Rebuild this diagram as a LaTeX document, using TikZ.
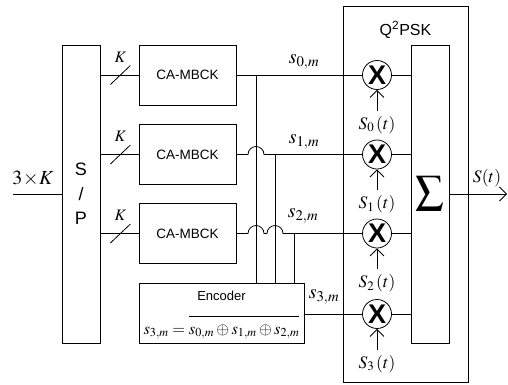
\documentclass[tikz,border=0pt]{standalone}
\usepackage{mathptmx}
\usepackage[no-math]{fontspec}
\setmainfont{Liberation Sans}
\usetikzlibrary{arrows.meta,calc}

\begin{document}
\begin{tikzpicture}[x=1pt,y=-1pt,line width=0.8pt,
    >={Straight Barb[length=7pt,width=14pt]},
    blk/.style={draw,minimum width=97pt,minimum height=60pt,
      font=\fontsize{13.5}{16}\selectfont},
    mult/.style={draw,circle,minimum size=29pt,inner sep=0pt,
      font=\fontsize{27}{27}\selectfont\bfseries},
    lbl/.style={font=\fontsize{17.5}{20}\selectfont},
    sig/.style={font=\fontsize{20}{22}\selectfont}]
  \useasboundingbox (0,0) rectangle (508,384);

  % serial to parallel
  \node[draw,minimum width=38pt,minimum height=298pt,align=center,
    font=\fontsize{18}{24.5}\selectfont] (sp) at (81,194) {S\\/\\P};
  \coordinate (in) at (13,194);
  \draw (in) -- (sp.west);
  \node[font=\fontsize{20}{22}\selectfont] at (33,179) {$3\!\times\! K$};

  % coders
  \node[blk] (cb0) at (187.5,75) {CA-MBCK};
  \node[blk] (cb1) at (187.5,154.5) {CA-MBCK};
  \node[blk] (cb2) at (187.5,233.5) {CA-MBCK};
  \node[draw,minimum width=165pt,minimum height=60pt] (enc) at (221.5,313) {};
  \node[font=\fontsize{13}{15}\selectfont] at ($(enc.north)+(0,13)$) {Encoder};
  \node[font=\fontsize{16.5}{18}\selectfont] at ($(enc.center)+(0,14)$)
    {$s_{3,m}=\overline{\rule{0pt}{16pt}s_{0,m}\oplus s_{1,m}\oplus s_{2,m}}$};

  \foreach \i in {0,1,2}{
    \draw (sp.east |- cb\i.west) -- (cb\i.west);
    \draw ($(sp.east |- cb\i.west)+(10,9.5)$) -- +(20,-19);
    \node[font=\fontsize{16}{18}\selectfont\itshape] at ($(sp.east |- cb\i.west)+(20,-18)$)
      {$K$};
  }

  % modulator
  \node[draw,minimum width=125pt,minimum height=376pt] (q2) at (405.5,194) {};
  \node[font=\fontsize{16}{18}\selectfont] at ($(q2.north)+(0,24)$) {Q\textsuperscript{2}PSK};
  \node[draw,minimum width=38pt,minimum height=298pt] (sum) at (430,194)
    {\fontsize{28}{30}\selectfont$\displaystyle\sum$};

  \node[mult] (mul0) at (377,75) {X};
  \node[mult] (mul1) at (377,154.5) {X};
  \node[mult] (mul2) at (377,233.5) {X};
  \node[mult] (mul3) at (377,314) {X};

  % buses to the encoder
  \coordinate (v0) at (256,75);
  \coordinate (v1) at (275,154.5);
  \coordinate (v2) at (294,233.5);
  \draw (v0) -- (v0 |- enc.north);
  \draw (v1) -- (v1 |- enc.north);
  \draw (v2) -- (v2 |- enc.north);

  \draw (cb0.east) -- (mul0.west);
  \draw (cb1.east) -- ($(v0 |- cb1.east)+(-8,0)$)
    arc[start angle=180,end angle=360,radius=8] -- (mul1.west);
  \draw (cb2.east) -- ($(v0 |- cb2.east)+(-8,0)$)
    arc[start angle=180,end angle=360,radius=8]
    -- ($(v1 |- cb2.east)+(-8,0)$)
    arc[start angle=180,end angle=360,radius=8] -- (mul2.west);
  \draw (enc.east |- mul3.west) -- (mul3.west);

  \node[sig] at (304,62) {$s_{0,m}$};
  \node[sig] at (304,142) {$s_{1,m}$};
  \node[sig] at (303,216) {$s_{2,m}$};
  \node[sig] at (324,297) {$s_{3,m}$};

  \foreach \i in {0,1,2,3}{
    \draw (mul\i.east) -- (sum.west |- mul\i.east);
    \draw[->] ($(mul\i.south)+(0,21)$) -- (mul\i.south);
    \node[lbl] at ($(mul\i.south)+(0,35)$) {$S_{\i}\,(t)$};
  }

  % output
  \coordinate (out) at (507,194);
  \draw[->] (sum.east) -- (out);
  \node[lbl] at (487,178) {$S(t)$};
\end{tikzpicture}
\end{document}
